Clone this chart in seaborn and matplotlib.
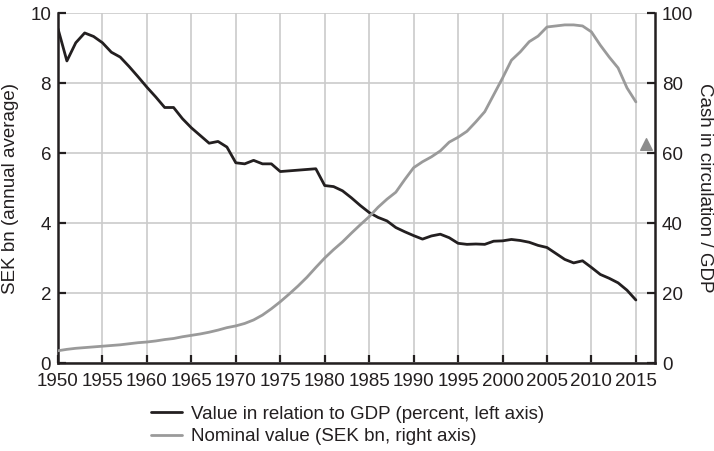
import matplotlib
matplotlib.use("Agg")
import matplotlib.pyplot as plt
import seaborn as sns
import pandas as pd

years = list(range(1950, 2016))
gdp_share = [9.55, 8.63, 9.15, 9.43, 9.33, 9.15, 8.88, 8.74, 8.47, 8.18,
             7.88, 7.60, 7.30, 7.30, 6.98, 6.72, 6.50, 6.28, 6.33, 6.17,
             5.72, 5.69, 5.79, 5.69, 5.69, 5.47, 5.49, 5.51, 5.53, 5.55,
             5.07, 5.04, 4.92, 4.72, 4.50, 4.30, 4.16, 4.06, 3.87, 3.75,
             3.64, 3.54, 3.63, 3.68, 3.58, 3.42, 3.39, 3.40, 3.39, 3.48,
             3.49, 3.53, 3.50, 3.45, 3.36, 3.30, 3.13, 2.96, 2.86, 2.92,
             2.73, 2.53, 2.42, 2.29, 2.08, 1.80]
nominal = [3.5, 3.9, 4.2, 4.4, 4.6, 4.8, 5.0, 5.2, 5.5, 5.8,
           6.0, 6.3, 6.7, 7.0, 7.5, 7.9, 8.3, 8.8, 9.4, 10.1,
           10.6, 11.3, 12.3, 13.7, 15.5, 17.5, 19.7, 22.0, 24.5, 27.3,
           30.0, 32.4, 34.6, 37.1, 39.5, 41.8, 44.5, 46.8, 48.8, 52.4,
           55.8, 57.5, 58.9, 60.6, 63.1, 64.5, 66.2, 68.9, 71.8, 76.6,
           81.4, 86.5, 88.9, 91.8, 93.4, 96.0, 96.3, 96.6, 96.6, 96.3,
           94.6, 90.8, 87.4, 84.3, 78.6, 74.6]
marker_year = [2016.1]
marker_value = [62.5]

xticks = list(range(1950, 2016, 5))
left_ticks = [0, 2, 4, 6, 8, 10]
right_ticks = [0, 20, 40, 60, 80, 100]

label_black = "Value in relation to GDP (percent, left axis)"
label_gray = "Nominal value (SEK bn, right axis)"

df = pd.DataFrame({"year": years, "share": gdp_share, "nominal": nominal})

sns.set_theme(style="white")
plt.rcParams["font.family"] = ["Liberation Sans", "DejaVu Sans"]

txt = "#231f20"
black = "#231f20"
gray = "#9a9a9a"
gridc = "#cbcbcb"
fs = 13.5

fig = plt.figure(figsize=(7.14, 4.51), dpi=100)
ax = fig.add_axes([58 / 714, 1 - 363 / 451, (655 - 58) / 714, (363 - 13) / 451])
ax2 = ax.twinx()

sns.lineplot(data=df, x="year", y="share", ax=ax, color=black, lw=2.0,
             label=label_black, legend=False)
sns.lineplot(data=df, x="year", y="nominal", ax=ax2, color=gray, lw=2.0,
             label=label_gray, legend=False)
ax2.scatter(marker_year, marker_value, marker="^", s=70, color="#8c8c8c",
            zorder=5, clip_on=False)

ax.set_xlim(1950, 2017.15)
ax.set_ylim(0, 10)
ax2.set_ylim(0, 100)
ax.set_xticks(xticks)
ax.set_xticklabels([str(v) for v in xticks])
ax.set_yticks(left_ticks)
ax2.set_yticks(right_ticks)

ax.grid(True, color=gridc, lw=1.2)
ax2.grid(False)
ax.set_axisbelow(True)

for a in (ax, ax2):
    a.spines["top"].set_visible(False)
    for s in ("left", "right", "bottom"):
        a.spines[s].set_color(black)
        a.spines[s].set_linewidth(1.8)
ax.spines["right"].set_visible(False)
ax2.spines["left"].set_visible(False)
ax2.spines["bottom"].set_visible(False)

ax.tick_params(axis="both", direction="in", length=6, width=1.6, color=black,
               labelsize=fs, labelcolor=txt, pad=5)
ax.tick_params(axis="y", left=True, right=False)
ax.tick_params(axis="x", bottom=True, pad=7)
ax2.tick_params(axis="y", direction="in", length=6, width=1.6, color=black,
                labelsize=fs, labelcolor=txt, pad=5, right=True)

ax.set_xlabel("")
ax.set_ylabel("SEK bn (annual average)", fontsize=fs, color=txt, labelpad=8)
ax2.set_ylabel("Cash in circulation / GDP", fontsize=fs, color=txt,
               rotation=270, va="center", ha="center")
ax2.yaxis.set_label_coords((704 - 58) / 597, 0.5)

handles = ax.get_lines()[:1] + ax2.get_lines()[:1]
fig.legend(handles, [label_black, label_gray], loc="upper left",
           bbox_to_anchor=(143 / 714, 1 - 398 / 451), frameon=False,
           fontsize=fs, handlelength=1.7, handletextpad=0.45,
           labelspacing=0.3, borderaxespad=0, labelcolor=txt)

fig.savefig("out.png", dpi=100)
